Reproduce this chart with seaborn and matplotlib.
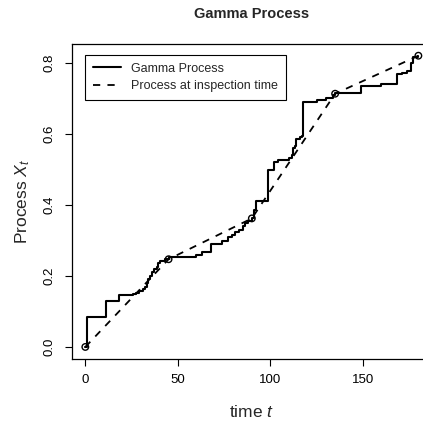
import numpy as np
import pandas as pd
import matplotlib
matplotlib.use("Agg")
import matplotlib.pyplot as plt
import seaborn as sns
from matplotlib.lines import Line2D

# ---- data ----
step_times = [0, 1, 11, 18, 22, 26, 27.5, 29, 31, 32, 33.5, 34, 35, 36, 37, 38.5,
              39.5, 40.5, 43, 45, 55, 60, 63, 68, 74, 77, 79.5, 81, 83, 85, 86.5,
              88, 90, 91, 92.5, 98.5, 102, 104, 110, 111.5, 112, 113.5, 114, 116,
              117, 117.5, 125, 130, 134, 135, 149, 160, 168.5, 171, 174, 176, 177, 180]
step_values = [0, 0.085, 0.128, 0.145, 0.147, 0.149, 0.152, 0.158, 0.163, 0.170, 0.180,
               0.190, 0.200, 0.212, 0.220, 0.225, 0.235, 0.243, 0.247, 0.252, 0.254,
               0.258, 0.266, 0.291, 0.298, 0.310, 0.315, 0.325, 0.330, 0.340, 0.350,
               0.356, 0.363, 0.385, 0.412, 0.497, 0.522, 0.527, 0.532, 0.540, 0.560,
               0.565, 0.585, 0.590, 0.595, 0.690, 0.695, 0.700, 0.708, 0.714, 0.735,
               0.740, 0.768, 0.772, 0.776, 0.800, 0.815, 0.820]
insp_times = [0, 45, 90, 135, 180]
insp_values = [0, 0.247, 0.362, 0.713, 0.820]
x_ticks = [0, 50, 100, 150]
y_ticks = [0.0, 0.2, 0.4, 0.6, 0.8]
y_tick_labels = ["0.0", "0.2", "0.4", "0.6", "0.8"]

sns.set_style("ticks")
plt.rcParams["font.family"] = ["Liberation Sans", "DejaVu Sans"]
plt.rcParams["mathtext.fontset"] = "custom"
plt.rcParams["mathtext.it"] = "Liberation Sans:italic"
plt.rcParams["mathtext.rm"] = "Liberation Sans"

W, H = 423, 422
fig = plt.figure(figsize=(W / 100, H / 100), dpi=100)
left, right, bottom, top = 72, 431.7, 358.6, 44
ax = fig.add_axes([left / W, 1 - bottom / H, (right - left) / W, (bottom - top) / H])

step_df = pd.DataFrame({"t": step_times, "v": step_values})
insp_df = pd.DataFrame({"t": insp_times, "v": insp_values})

sns.lineplot(data=step_df, x="t", y="v", drawstyle="steps-post", color="black",
             lw=1.5, estimator=None, sort=False, ax=ax)
sns.lineplot(data=insp_df, x="t", y="v", color="black", lw=1.3,
             dashes=False, estimator=None, sort=False, ax=ax, linestyle=(0, (4, 4)))
sns.scatterplot(data=insp_df, x="t", y="v", marker="o", s=22, facecolors="none",
                edgecolor="black", linewidth=1.0, ax=ax, zorder=5)

ax.set_xlim(-7.2, 187.2)
ax.set_ylim(-0.0328, 0.853)
ax.set_xticks(x_ticks)
ax.set_yticks(y_ticks)
ax.set_yticklabels(y_tick_labels)
for lab in ax.get_yticklabels():
    lab.set_rotation(90)
    lab.set_va("center")
ax.tick_params(axis="both", direction="out", length=5, width=0.8, color="black",
               labelsize=9.5, labelcolor="black")
ax.tick_params(axis="x", pad=6)
ax.tick_params(axis="y", pad=7)
for s in ax.spines.values():
    s.set_color("black")
    s.set_linewidth(0.9)

ax.set_xlabel("time $t$", fontsize=12.5, labelpad=13)
ax.set_ylabel("Process $X_t$", fontsize=12.5, labelpad=8)
fig.text((left + right) / 2 / W, 1 - 14 / H, "Gamma Process", ha="center", va="center",
         fontsize=10.5, fontweight="bold")

handles = [Line2D([], [], color="black", lw=1.5),
           Line2D([], [], color="black", lw=1.3, linestyle=(0, (4, 4)))]
leg = ax.legend(handles, ["Gamma Process", "Process at inspection time"],
                loc="upper left", bbox_to_anchor=(85 / W, 1 - 55 / H),
                bbox_transform=fig.transFigure, borderaxespad=0, fontsize=9,
                frameon=True, fancybox=False, edgecolor="black", framealpha=1,
                handlelength=2.3, handletextpad=0.8, borderpad=0.6, labelspacing=0.45)
leg.get_frame().set_linewidth(0.8)

fig.savefig("out.png", dpi=100)
